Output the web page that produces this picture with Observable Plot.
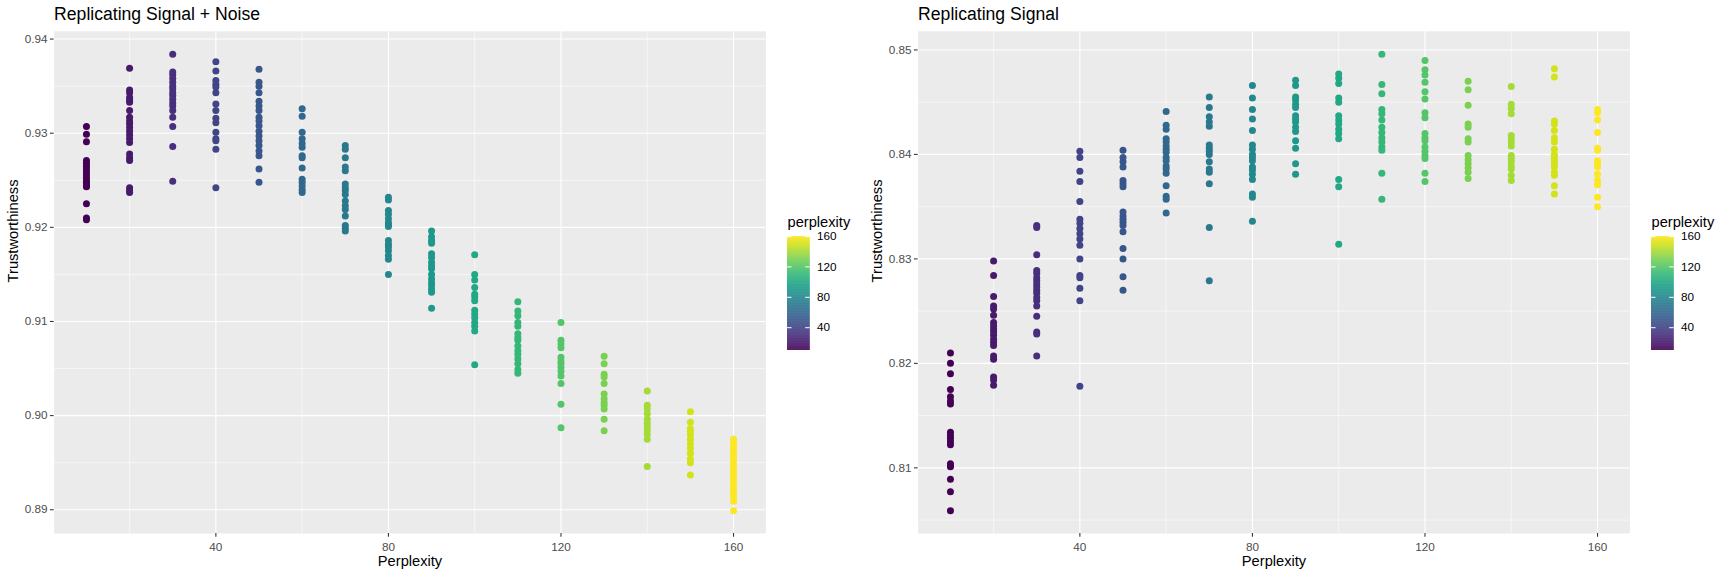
<!DOCTYPE html>
<html><head><meta charset="utf-8">
<script src="https://cdn.jsdelivr.net/npm/d3@7"></script>
<script src="https://cdn.jsdelivr.net/npm/@observablehq/plot@0.6"></script>
<style>
body{margin:0;background:#fff;}
#root{position:relative;width:1728px;height:576px;overflow:hidden;font-family:"Liberation Sans",Arial,Helvetica,sans-serif;}
#root > div, #root > svg{position:absolute;}
</style></head>
<body><div id="root"></div>
<script>
const perplexities = [10,20,30,40,50,60,70,80,90,100,110,120,130,140,150,160];

// Replicating Signal + Noise: trustworthiness values per perplexity (same order as perplexities)
const noiseTrust = [
  [0.9307,0.9299,0.9291,0.9271,0.9268,0.9265,0.9262,0.9259,0.9256,0.9253,0.9250,0.9248,0.9246,0.9244,0.9243,0.9225,0.9210,0.9208],
  [0.9369,0.9346,0.9343,0.9338,0.9335,0.9333,0.9324,0.9317,0.9313,0.9310,0.9306,0.9302,0.9298,0.9294,0.9290,0.9278,0.9274,0.9271,0.9242,0.9239,0.9237],
  [0.9384,0.9365,0.9362,0.9358,0.9354,0.9350,0.9347,0.9343,0.9340,0.9336,0.9332,0.9329,0.9324,0.9317,0.9307,0.9286,0.9249],
  [0.9376,0.9366,0.9356,0.9352,0.9349,0.9343,0.9331,0.9324,0.9316,0.9311,0.9301,0.9294,0.9292,0.9283,0.9242],
  [0.9368,0.9354,0.9350,0.9343,0.9334,0.9329,0.9324,0.9317,0.9313,0.9308,0.9302,0.9297,0.9292,0.9287,0.9281,0.9276,0.9262,0.9248],
  [0.9326,0.9318,0.9301,0.9294,0.9289,0.9285,0.9276,0.9274,0.9263,0.9251,0.9248,0.9244,0.9240,0.9237],
  [0.9287,0.9283,0.9274,0.9264,0.9260,0.9246,0.9242,0.9239,0.9235,0.9228,0.9223,0.9219,0.9212,0.9202,0.9199,0.9196],
  [0.9232,0.9229,0.9218,0.9214,0.9209,0.9205,0.9203,0.9201,0.9186,0.9182,0.9179,0.9175,0.9170,0.9166,0.9150],
  [0.9196,0.9190,0.9186,0.9183,0.9172,0.9168,0.9163,0.9159,0.9156,0.9150,0.9145,0.9141,0.9138,0.9134,0.9131,0.9114],
  [0.9171,0.9150,0.9144,0.9136,0.9129,0.9126,0.9122,0.9112,0.9108,0.9104,0.9099,0.9095,0.9090,0.9054],
  [0.9121,0.9111,0.9106,0.9099,0.9095,0.9087,0.9083,0.9080,0.9074,0.9069,0.9065,0.9060,0.9055,0.9049,0.9045],
  [0.9099,0.9080,0.9076,0.9072,0.9062,0.9058,0.9055,0.9051,0.9047,0.9042,0.9034,0.9012,0.8987],
  [0.9063,0.9055,0.9044,0.9041,0.9034,0.9023,0.9018,0.9014,0.9011,0.9007,0.8996,0.8984],
  [0.9026,0.9011,0.9007,0.9002,0.8996,0.8992,0.8988,0.8984,0.8980,0.8975,0.8946],
  [0.9004,0.8993,0.8986,0.8983,0.8980,0.8975,0.8970,0.8965,0.8960,0.8954,0.8950,0.8937],
  [0.8975,0.8970,0.8966,0.8962,0.8958,0.8954,0.8950,0.8946,0.8942,0.8938,0.8934,0.8930,0.8925,0.8921,0.8917,0.8913,0.8909,0.8899]
];

// Replicating Signal: trustworthiness values per perplexity
const signalTrust = [
  [0.8210,0.8200,0.8190,0.8175,0.8168,0.8164,0.8161,0.8134,0.8131,0.8128,0.8125,0.8122,0.8104,0.8102,0.8101,0.8089,0.8077,0.8059],
  [0.8298,0.8284,0.8264,0.8255,0.8252,0.8246,0.8239,0.8236,0.8233,0.8230,0.8227,0.8223,0.8220,0.8217,0.8207,0.8204,0.8187,0.8184,0.8179],
  [0.8332,0.8330,0.8304,0.8289,0.8286,0.8282,0.8279,0.8276,0.8273,0.8270,0.8267,0.8263,0.8260,0.8255,0.8245,0.8230,0.8228,0.8207],
  [0.8403,0.8397,0.8384,0.8374,0.8355,0.8338,0.8334,0.8329,0.8324,0.8319,0.8313,0.8300,0.8284,0.8282,0.8272,0.8260,0.8178],
  [0.8404,0.8397,0.8393,0.8388,0.8375,0.8372,0.8369,0.8345,0.8341,0.8338,0.8335,0.8332,0.8326,0.8310,0.8300,0.8283,0.8270],
  [0.8441,0.8428,0.8424,0.8415,0.8412,0.8408,0.8405,0.8402,0.8397,0.8394,0.8389,0.8386,0.8382,0.8370,0.8360,0.8357,0.8344],
  [0.8455,0.8445,0.8436,0.8431,0.8427,0.8409,0.8406,0.8403,0.8400,0.8393,0.8386,0.8383,0.8372,0.8330,0.8279],
  [0.8466,0.8454,0.8443,0.8434,0.8423,0.8409,0.8405,0.8400,0.8397,0.8394,0.8388,0.8385,0.8381,0.8376,0.8362,0.8359,0.8336],
  [0.8471,0.8466,0.8455,0.8452,0.8448,0.8445,0.8437,0.8434,0.8431,0.8426,0.8422,0.8413,0.8406,0.8391,0.8381],
  [0.8477,0.8473,0.8468,0.8454,0.8450,0.8437,0.8433,0.8429,0.8424,0.8420,0.8415,0.8376,0.8369,0.8314],
  [0.8496,0.8467,0.8458,0.8443,0.8439,0.8433,0.8426,0.8421,0.8416,0.8412,0.8407,0.8404,0.8382,0.8357],
  [0.8490,0.8481,0.8476,0.8469,0.8460,0.8453,0.8440,0.8435,0.8420,0.8416,0.8413,0.8407,0.8403,0.8399,0.8396,0.8382,0.8374],
  [0.8470,0.8462,0.8447,0.8429,0.8426,0.8415,0.8412,0.8399,0.8395,0.8391,0.8387,0.8383,0.8377],
  [0.8465,0.8448,0.8444,0.8439,0.8418,0.8415,0.8412,0.8408,0.8399,0.8396,0.8393,0.8389,0.8386,0.8380,0.8375],
  [0.8482,0.8474,0.8432,0.8429,0.8423,0.8416,0.8412,0.8405,0.8400,0.8397,0.8394,0.8391,0.8388,0.8383,0.8380,0.8370,0.8362],
  [0.8443,0.8440,0.8433,0.8421,0.8406,0.8404,0.8394,0.8391,0.8388,0.8381,0.8375,0.8371,0.8359,0.8350]
];

const xTicks = [40,80,120,160];
const xMinorTicks = [20,60,100,140];
const noiseYTicks = [0.89,0.90,0.91,0.92,0.93,0.94];
const noiseYMinor = [0.895,0.905,0.915,0.925,0.935];
const signalYTicks = [0.81,0.82,0.83,0.84,0.85];
const signalYMinor = [0.805,0.815,0.825,0.835,0.845];
const legendTicks = [40,80,120,160];
const titles = ["Replicating Signal + Noise", "Replicating Signal"];
const xLabel = "Perplexity";
const yLabel = "Trustworthiness";
const legendTitle = "perplexity";

const FONT = "'Liberation Sans', Arial, Helvetica, sans-serif";
const W = 864, H = 576, ML = 53.6, MR = 98.6, MT = 30.8, MB = 43;

function toRows(values){
  return perplexities.flatMap((p,i) => values[i].map(v => ({perplexity:p, trust:v})));
}
function expand(ext, f=0.05){ const d = ext[1]-ext[0]; return [ext[0]-d*f, ext[1]+d*f]; }
const colorScale = {type:"linear", scheme:"viridis", domain:d3.extent(perplexities)};

function panel(title, values, yTicks, yMinor){
  const rows = toRows(values);
  return Plot.plot({
    width: W, height: H, marginLeft: ML, marginRight: MR, marginTop: MT, marginBottom: MB,
    style: {fontFamily: FONT, background: "transparent", overflow: "visible"},
    x: {domain: expand(d3.extent(perplexities))},
    y: {domain: expand(d3.extent(rows, d => d.trust))},
    color: colorScale,
    marks: [
      Plot.frame({fill: "#EBEBEB", stroke: null}),
      Plot.ruleY(yMinor, {stroke: "white", strokeWidth: 0.55}),
      Plot.ruleX(xMinorTicks, {stroke: "white", strokeWidth: 0.55}),
      Plot.ruleY(yTicks, {stroke: "white", strokeWidth: 1.1}),
      Plot.ruleX(xTicks, {stroke: "white", strokeWidth: 1.1}),
      Plot.axisY(yTicks, {tickSize: 3.67, stroke: "#333333", strokeWidth: 1.07, tickFormat: () => "", label: null}),
      Plot.axisY(yTicks, {tickSize: 0, tickPadding: 6.6, color: "#4D4D4D", fontSize: 11.73, tickFormat: d3.format(".2f"), label: null}),
      Plot.axisX(xTicks, {tickSize: 3.67, stroke: "#333333", strokeWidth: 1.07, tickFormat: () => "", label: null}),
      Plot.axisX(xTicks, {tickSize: 0, tickPadding: 9, color: "#4D4D4D", fontSize: 11.73, tickFormat: d3.format("d"), label: null}),
      Plot.dot(rows, {x: "perplexity", y: "trust", fill: "perplexity", r: 3.5}),
      Plot.text([title], {text: d => d, frameAnchor: "top-left", dy: -17, lineAnchor: "middle", textAnchor: "start", fontSize: 17.6, fill: "black"}),
      Plot.text([yLabel], {text: d => d, frameAnchor: "left", dx: -40.7, rotate: -90, lineAnchor: "middle", fontSize: 14.67, fill: "black"}),
      Plot.text([xLabel], {text: d => d, frameAnchor: "bottom", dy: 27.6, lineAnchor: "middle", fontSize: 14.67, fill: "black"})
    ]
  });
}

function legend(){
  const steps = d3.range(colorScale.domain[0], colorScale.domain[1], 0.5);
  return Plot.plot({
    width: 80, height: 140, marginLeft: 0, marginRight: 57.3, marginTop: 22, marginBottom: 4,
    style: {fontFamily: FONT, background: "transparent", overflow: "visible"},
    x: {domain: [0,1], axis: null},
    y: {domain: colorScale.domain, axis: null},
    color: colorScale,
    marks: [
      Plot.rect(steps, {x1: 0, x2: 1, y1: d => d, y2: d => Math.min(d + 0.8, colorScale.domain[1]), fill: d => d + 0.25, inset: 0}),
      Plot.ruleY(legendTicks, {x1: 0, x2: 0.2, stroke: "white", strokeWidth: 1}),
      Plot.ruleY(legendTicks, {x1: 0.8, x2: 1, stroke: "white", strokeWidth: 1}),
      Plot.text(legendTicks, {x: 1, y: d => d, text: d => String(d), dx: 6.7, textAnchor: "start", lineAnchor: "middle", fontSize: 11.73, fill: "black"}),
      Plot.text([legendTitle], {text: d => d, frameAnchor: "top-left", dy: -14, lineAnchor: "middle", textAnchor: "start", fontSize: 14.67, fill: "black"})
    ]
  });
}

const root = document.getElementById("root");
function place(node, left, top){
  node.style.position = "absolute";
  node.style.left = left + "px";
  node.style.top = top + "px";
  root.appendChild(node);
}
place(panel(titles[0], noiseTrust, noiseYTicks, noiseYMinor), 0, 0);
place(panel(titles[1], signalTrust, signalYTicks, signalYMinor), 864, 0);
place(legend(), 787, 214);
place(legend(), 1651, 214);
</script>
</body></html>
